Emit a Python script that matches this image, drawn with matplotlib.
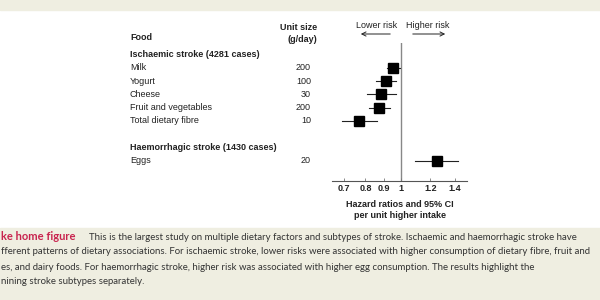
import matplotlib
matplotlib.use("Agg")
import matplotlib.pyplot as plt
import numpy as np

# forest plot data
foods = ["Milk", "Yogurt", "Cheese", "Fruit and vegetables", "Total dietary fibre", "Eggs"]
units = ["200", "100", "30", "200", "10", "20"]
hr = [0.95, 0.91, 0.88, 0.87, 0.77, 1.25]
ci_low = [0.915, 0.855, 0.81, 0.82, 0.69, 1.09]
ci_high = [0.99, 0.97, 0.97, 0.93, 0.86, 1.43]
rows = [1, 2, 3, 4, 5, 8]
headers = ["Ischaemic stroke (4281 cases)", "Haemorrhagic stroke (1430 cases)"]
header_rows = [0, 7]
xticks = [0.7, 0.8, 0.9, 1, 1.2, 1.4]
xticklabels = ["0.7", "0.8", "0.9", "1", "1.2", "1.4"]

caption_title = "ke home figure"
caption = [
    "This is the largest study on multiple dietary factors and subtypes of stroke. Ischaemic and haemorrhagic stroke have",
    "fferent patterns of dietary associations. For ischaemic stroke, lower risks were associated with higher consumption of dietary fibre, fruit and",
    "es, and dairy foods. For haemorrhagic stroke, higher risk was associated with higher egg consumption. The results highlight the",
    "nining stroke subtypes separately.",
]

W, H = 600, 300
fig = plt.figure(figsize=(6, 3), dpi=100)
fig.patch.set_facecolor("white")

beige = "#efeee1"
# beige bands (top strip and caption box)
fig.add_artist(plt.Rectangle((0, 1 - 10 / H), 1, 10 / H, transform=fig.transFigure, color=beige, zorder=0))
fig.add_artist(plt.Rectangle((0, 0), 1, 72 / H, transform=fig.transFigure, color=beige, zorder=0))

font = "Liberation Sans"
fs = 6.5
tc = "#222222"

# axes: px left 332..467, top 43..bottom 181
ax = fig.add_axes([332 / W, (H - 181) / H, 135 / W, 138 / H])
ax.set_xscale("log")
ax.set_xlim(0.649, 1.51)
ax.set_ylim(9.52, -0.86)
ax.set_facecolor("none")
for s in ["top", "right", "left"]:
    ax.spines[s].set_visible(False)
ax.spines["bottom"].set_color("#555555")
ax.spines["bottom"].set_linewidth(0.8)
ax.set_yticks([])
ax.set_xticks(xticks)
ax.set_xticklabels(xticklabels, fontsize=fs, fontweight="bold", family=font, color=tc)
ax.xaxis.set_minor_locator(matplotlib.ticker.NullLocator())
ax.tick_params(axis="x", direction="in", length=2, width=0.6, color="#777777", pad=2)

ax.axvline(1, color="#888888", lw=1.0, zorder=1)
for y, h, lo, hi in zip(rows, hr, ci_low, ci_high):
    ax.plot([lo, hi], [y, y], color="#222222", lw=0.8, zorder=2)
    ax.plot(h, y, marker="s", ms=6.5, color="black", zorder=3)

ax.set_xlabel("Hazard ratios and 95% CI\nper unit higher intake", fontsize=fs, fontweight="bold",
              family=font, color=tc, labelpad=5, linespacing=1.3)

# table text: figure x in px, data y
tr = matplotlib.transforms.blended_transform_factory(fig.transFigure, ax.transData)
for y, f, u in zip(rows, foods, units):
    ax.text(130 / W, y, f, transform=tr, fontsize=fs, family=font, color=tc, va="center", ha="left")
    ax.text(311 / W, y, u, transform=tr, fontsize=fs, family=font, color=tc, va="center", ha="right")
for y, t in zip(header_rows, headers):
    ax.text(130 / W, y, t, transform=tr, fontsize=fs, family=font, color=tc, va="center", ha="left",
            fontweight="bold")
fig.text(130 / W, 1 - 38 / H, "Food", fontsize=fs, family=font, color=tc, fontweight="bold", va="center")
fig.text(317 / W, 1 - 28 / H, "Unit size", fontsize=fs, family=font, color=tc, fontweight="bold",
         va="center", ha="right")
fig.text(317 / W, 1 - 39 / H, "(g/day)", fontsize=fs, family=font, color=tc, fontweight="bold",
         va="center", ha="right")

# risk arrows
fig.text(377 / W, 1 - 25 / H, "Lower risk", fontsize=fs, family=font, color=tc, ha="center", va="center")
fig.text(428 / W, 1 - 25 / H, "Higher risk", fontsize=fs, family=font, color=tc, ha="center", va="center")
fig.add_artist(matplotlib.patches.FancyArrowPatch((393 / W, 1 - 34 / H), (358 / W, 1 - 34 / H),
               transform=fig.transFigure, arrowstyle="->,head_length=3,head_width=1.5", lw=0.7, color=tc))
fig.add_artist(matplotlib.patches.FancyArrowPatch((410 / W, 1 - 34 / H), (448 / W, 1 - 34 / H),
               transform=fig.transFigure, arrowstyle="->,head_length=3,head_width=1.5", lw=0.7, color=tc))

# caption - size the font so line 2 spans nearly the full width like the reference
cap_font = "Lato"
ly = [237, 252, 267, 281]
probe = fig.text(0, 0, caption[1], fontsize=10, family=cap_font)
renderer = fig.canvas.get_renderer()
cap_fs = 10 * 595 / probe.get_window_extent(renderer).width
probe.remove()

fig.text(1 / W, 1 - ly[0] / H, caption_title, fontsize=cap_fs * 1.15, family=cap_font,
         fontweight="bold", color="#c8234e", va="center")
fig.text(89 / W, 1 - ly[0] / H, caption[0], fontsize=cap_fs, family=cap_font, color="#333333", va="center")
for y, line in zip(ly[1:], caption[1:]):
    fig.text(1 / W, 1 - y / H, line, fontsize=cap_fs, family=cap_font, color="#333333", va="center")

fig.savefig("out.png", dpi=100)
